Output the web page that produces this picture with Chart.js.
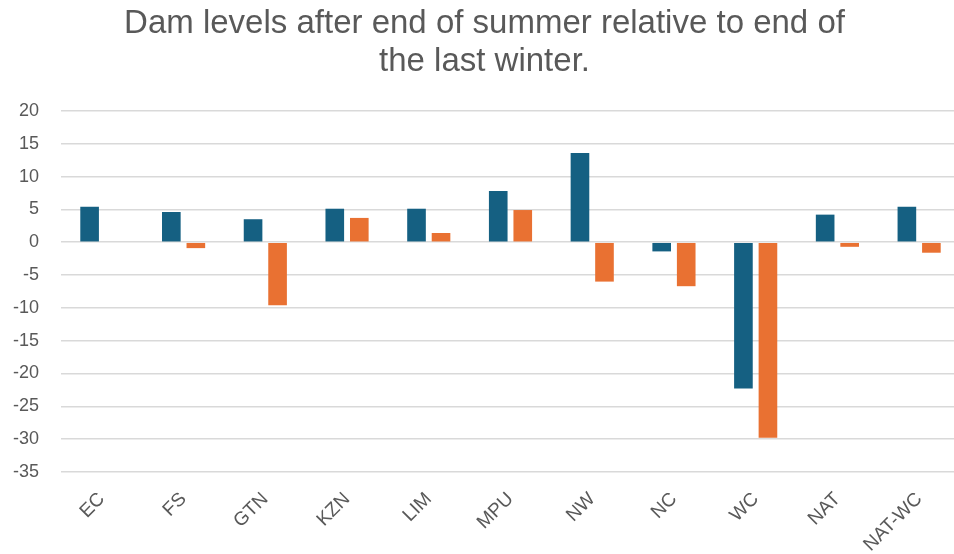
<!DOCTYPE html>
<html>
<head>
<meta charset="utf-8">
<script src="https://cdn.jsdelivr.net/npm/chart.js@4.4.0/dist/chart.umd.min.js"></script>
<style>
  html, body { margin: 0; padding: 0; background: #fff; overflow: hidden; }
  #wrap { width: 980px; height: 554px; }
</style>
</head>
<body>
<div id="wrap"><canvas id="damChart" width="980" height="554"></canvas></div>
<script>
// Dam level change per province (percentage points)
const regions = ['EC', 'FS', 'GTN', 'KZN', 'LIM', 'MPU', 'NW', 'NC', 'WC', 'NAT', 'NAT-WC'];
const firstSeries = [5.4, 4.6, 3.5, 5.1, 5.1, 7.8, 13.6, -1.4, -22.3, 4.2, 5.4];
const secondSeries = [0, -0.9, -9.6, 3.7, 1.4, 4.9, -6.0, -6.7, -29.8, -0.7, -1.6];
const titleLines = ['Dam levels after end of summer relative to end of', 'the last winter.'];

document.addEventListener('DOMContentLoaded', function () {
    const ctx = document.getElementById('damChart').getContext('2d');
    new Chart(ctx, {
        type: 'bar',
        data: {
            labels: regions,
            datasets: [{
                label: 'Series 1',
                data: firstSeries,
                backgroundColor: '#156082',
                borderWidth: 0
            }, {
                label: 'Series 2',
                data: secondSeries,
                backgroundColor: '#E97132',
                borderWidth: 0
            }]
        },
        options: {
            responsive: false,
            animation: false,
            categoryPercentage: 0.6,
            barPercentage: 0.76,
            layout: {
                padding: { left: 9, right: 20, top: 5, bottom: -4 }
            },
            plugins: {
                legend: { display: false },
                tooltip: { enabled: false },
                title: {
                    display: true,
                    text: titleLines,
                    color: '#595959',
                    font: { family: 'Liberation Sans', size: 33, weight: 'normal', lineHeight: 1.15 },
                    padding: { top: 0, bottom: 30 }
                }
            },
            scales: {
                x: {
                    grid: { display: false },
                    border: { display: false },
                    ticks: {
                        color: '#595959',
                        font: { family: 'Liberation Sans', size: 19 },
                        maxRotation: 45,
                        minRotation: 45,
                        padding: 8
                    },
                    afterFit: function (scale) { scale.height = 86; }
                },
                y: {
                    min: -35,
                    max: 20,
                    border: { display: false },
                    grid: { color: '#d9d9d9', lineWidth: 1.5, drawTicks: false },
                    afterFit: function (scale) { scale.width = 52; },
                    ticks: {
                        stepSize: 5,
                        color: '#595959',
                        font: { family: 'Liberation Sans', size: 18 },
                        padding: 22
                    }
                }
            }
        }
    });
});
</script>
</body>
</html>
